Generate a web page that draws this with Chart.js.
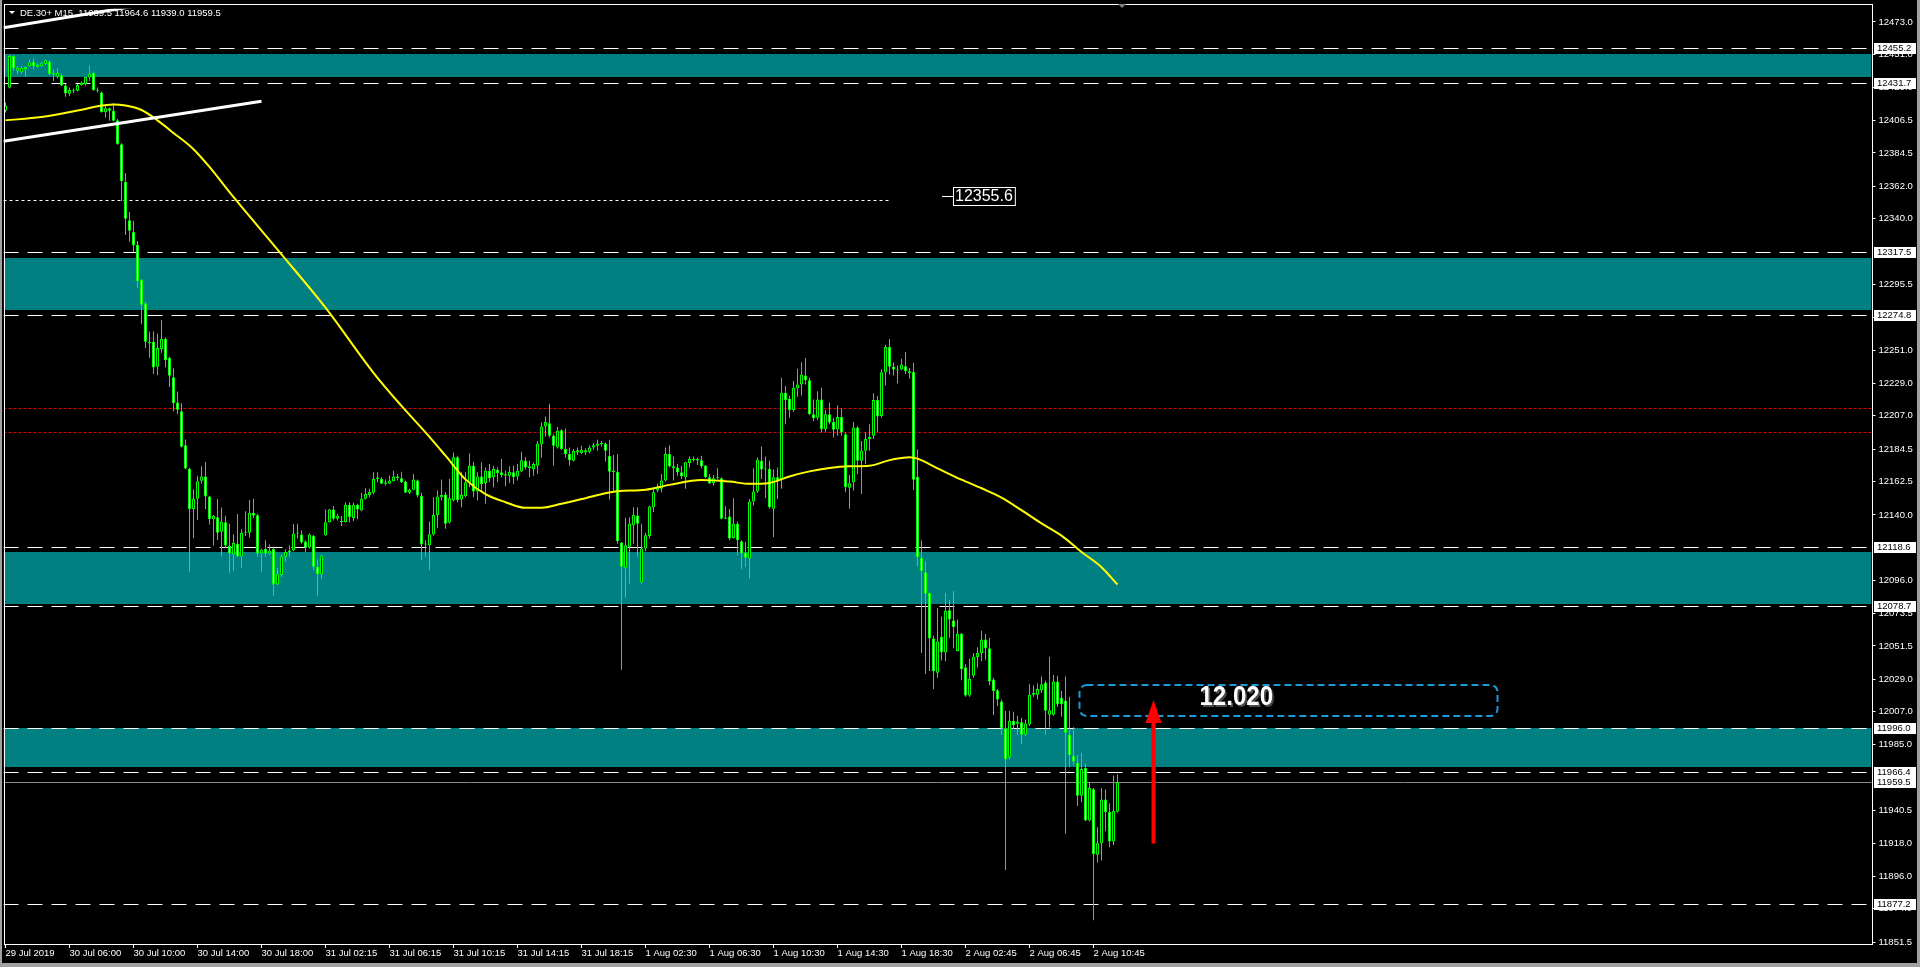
<!DOCTYPE html>
<html>
<head>
<meta charset="utf-8">
<title>DE.30+ M15</title>
<script src="https://cdn.jsdelivr.net/npm/chart.js@4.4.1/dist/chart.umd.min.js"></script>
<style>
  html, body { margin: 0; padding: 0; background: #000; overflow: hidden; }
  canvas { display: block; }
</style>
</head>
<body>
<canvas id="myChart" width="1920" height="967"></canvas>
<script>
// DE.30+ M15, one entry per bar (bar 0 = left edge of the window)
const opens = [
  12413.0, 12428.6, 12449.9, 12440.0, 12439.0, 12441.0, 12443.0, 12446.0, 12442.5, 12443.0,
  12444.5, 12446.0, 12437.6, 12436.0, 12437.0, 12430.0, 12424.5, 12426.5, 12426.4, 12430.4,
  12431.0, 12435.5, 12438.7, 12427.0, 12425.3, 12412.0, 12414.7, 12413.0, 12406.5, 12390.3,
  12365.0, 12339.0, 12331.0, 12322.5, 12299.0, 12283.0, 12257.0, 12257.0, 12240.0, 12252.0,
  12259.0, 12246.0, 12233.0, 12216.0, 12210.0, 12187.0, 12171.0, 12144.0, 12151.0, 12163.0,
  12166.0, 12152.5, 12137.0, 12138.5, 12128.7, 12135.0, 12119.0, 12113.5, 12120.6, 12112.0,
  12128.5, 12128.0, 12141.5, 12139.7, 12114.0, 12117.0, 12114.0, 12117.0, 12093.0, 12099.4,
  12111.7, 12115.0, 12116.0, 12127.4, 12126.7, 12122.0, 12118.0, 12126.0, 12105.0, 12100.0,
  12126.2, 12135.0, 12143.7, 12137.4, 12135.8, 12135.2, 12146.8, 12138.0, 12146.8, 12143.0,
  12150.9, 12153.5, 12155.0, 12164.3, 12164.3, 12161.0, 12161.0, 12162.8, 12165.9, 12164.8,
  12162.5, 12155.0, 12157.0, 12163.2, 12152.7, 12120.0, 12119.5, 12126.7, 12140.0, 12152.0,
  12153.8, 12134.8, 12149.8, 12178.9, 12150.4, 12152.6, 12162.0, 12173.2, 12155.8, 12165.9,
  12161.6, 12169.9, 12165.4, 12170.5, 12168.8, 12167.4, 12166.5, 12168.8, 12166.0, 12169.4,
  12176.6, 12172.8, 12171.0, 12173.2, 12187.8, 12199.7, 12201.9, 12193.4, 12185.6, 12197.2,
  12184.5, 12181.1, 12176.6, 12182.2, 12181.8, 12182.2, 12182.7, 12185.6, 12186.7, 12188.0,
  12188.3, 12180.0, 12169.4, 12169.2, 12121.3, 12104.3, 12118.5, 12133.0, 12139.6, 12094.4,
  12117.3, 12125.8, 12145.2, 12156.5, 12157.6, 12163.2, 12181.1, 12172.8, 12172.1, 12168.8,
  12165.4, 12175.0, 12177.7, 12176.8, 12177.0, 12173.3, 12165.4, 12161.6, 12164.7, 12164.7,
  12137.4, 12139.0, 12124.4, 12134.0, 12122.2, 12114.5, 12110.5, 12149.0, 12155.8, 12176.6,
  12170.6, 12171.0, 12144.1, 12165.4, 12164.3, 12222.5, 12218.5, 12210.9, 12225.5, 12228.1,
  12234.2, 12231.0, 12208.0, 12205.7, 12218.0, 12197.9, 12208.0, 12202.8, 12197.9, 12206.2,
  12194.5, 12158.3, 12162.0, 12199.0, 12176.6, 12183.3, 12191.2, 12193.4, 12217.6, 12206.8,
  12236.4, 12253.4, 12240.0, 12238.2, 12238.2, 12240.4, 12237.1, 12236.6, 12165.6, 12111.1,
  12101.3, 12087.2, 12056.6, 12033.4, 12057.6, 12047.3, 12075.6, 12068.7, 12048.1, 12059.7,
  12037.0, 12018.0, 12031.4, 12044.0, 12046.8, 12055.8, 12049.9, 12028.8, 12021.6, 12013.9,
  11995.9, 11976.1, 12001.0, 11999.0, 12000.0, 11991.5, 11998.5, 12018.5, 12018.5, 12021.6,
  12026.7, 12005.0, 12005.1, 12027.5, 12016.5, 12014.6, 11991.5, 11977.4, 11972.7, 11950.4,
  11969.1, 11933.6, 11954.7, 11910.5, 11918.2, 11947.8, 11939.3, 11919.5, 11939.5
];
const highs = [
  12418.5, 12451.0, 12450.5, 12443.0, 12443.0, 12443.0, 12447.7, 12448.3, 12445.0, 12446.0,
  12447.6, 12447.0, 12441.0, 12441.6, 12438.0, 12431.0, 12428.6, 12428.0, 12431.0, 12432.7,
  12436.0, 12443.6, 12439.5, 12428.6, 12426.0, 12416.3, 12415.0, 12418.0, 12407.4, 12391.0,
  12371.0, 12344.6, 12338.5, 12325.0, 12299.0, 12284.0, 12263.8, 12263.8, 12262.6, 12271.6,
  12260.0, 12247.0, 12239.0, 12223.4, 12215.4, 12190.9, 12172.0, 12157.4, 12166.4, 12172.8,
  12175.7, 12153.0, 12140.0, 12150.8, 12145.0, 12139.5, 12134.0, 12126.7, 12140.6, 12130.3,
  12142.4, 12150.0, 12151.0, 12140.8, 12117.3, 12122.9, 12120.0, 12118.0, 12104.3, 12113.3,
  12116.8, 12119.5, 12133.9, 12134.0, 12129.6, 12122.9, 12127.4, 12126.5, 12110.0, 12113.3,
  12143.7, 12144.0, 12146.0, 12140.8, 12139.2, 12148.6, 12148.6, 12148.2, 12147.5, 12154.9,
  12158.0, 12157.6, 12168.8, 12168.8, 12165.4, 12163.9, 12166.6, 12169.9, 12167.7, 12169.2,
  12163.2, 12157.6, 12167.7, 12163.9, 12154.9, 12122.9, 12135.6, 12152.0, 12156.5, 12163.9,
  12155.4, 12164.3, 12182.2, 12180.0, 12168.8, 12168.8, 12181.5, 12175.9, 12168.8, 12175.5,
  12172.1, 12174.4, 12173.2, 12172.1, 12177.7, 12169.9, 12172.8, 12173.2, 12174.4, 12182.7,
  12178.9, 12176.6, 12175.5, 12190.0, 12202.4, 12206.4, 12215.1, 12194.5, 12199.5, 12197.9,
  12198.3, 12185.6, 12184.5, 12185.6, 12186.7, 12184.9, 12187.1, 12188.5, 12190.7, 12190.0,
  12188.9, 12190.7, 12180.4, 12181.1, 12121.7, 12137.9, 12138.5, 12145.2, 12145.2, 12134.0,
  12128.0, 12146.4, 12157.6, 12161.0, 12167.7, 12185.6, 12187.1, 12179.5, 12174.4, 12173.2,
  12175.9, 12179.5, 12179.5, 12178.8, 12180.0, 12173.7, 12167.7, 12167.0, 12171.5, 12165.4,
  12145.9, 12144.0, 12151.3, 12135.6, 12122.9, 12121.7, 12150.8, 12171.5, 12178.8, 12186.2,
  12179.5, 12176.6, 12170.6, 12172.1, 12232.6, 12227.0, 12220.3, 12230.4, 12238.7, 12243.1,
  12246.0, 12232.6, 12218.0, 12223.6, 12225.9, 12210.9, 12215.8, 12205.7, 12214.0, 12211.8,
  12195.6, 12167.0, 12202.8, 12200.1, 12190.0, 12195.6, 12201.3, 12222.1, 12220.3, 12238.2,
  12255.0, 12258.8, 12243.1, 12240.9, 12245.4, 12250.0, 12239.2, 12242.8, 12184.4, 12122.7,
  12108.5, 12087.5, 12058.4, 12077.1, 12071.2, 12087.4, 12082.3, 12088.7, 12069.4, 12060.2,
  12039.1, 12043.0, 12046.8, 12050.6, 12061.7, 12059.6, 12057.1, 12030.1, 12022.4, 12015.1,
  12007.5, 12007.5, 12006.9, 12004.3, 12003.0, 12001.8, 12025.7, 12024.9, 12026.2, 12030.8,
  12028.0, 12044.2, 12031.9, 12031.4, 12021.1, 12030.8, 12017.2, 11996.6, 11977.9, 11979.4,
  11972.2, 11959.4, 11955.5, 11929.0, 11955.5, 11954.7, 11945.2, 11964.0, 11964.6
];
const lows = [
  12411.8, 12428.0, 12439.8, 12437.6, 12438.0, 12435.8, 12443.0, 12441.0, 12442.0, 12442.5,
  12444.0, 12437.0, 12433.0, 12435.0, 12429.5, 12422.4, 12423.0, 12425.0, 12426.0, 12429.8,
  12430.0, 12433.0, 12426.5, 12425.3, 12411.8, 12408.5, 12406.2, 12405.8, 12390.0, 12352.0,
  12329.0, 12324.5, 12317.6, 12293.2, 12268.7, 12252.8, 12246.2, 12235.2, 12234.4, 12249.6,
  12239.8, 12226.4, 12210.0, 12208.0, 12185.5, 12170.8, 12101.8, 12124.3, 12136.6, 12161.0,
  12144.0, 12133.6, 12119.4, 12123.0, 12112.0, 12117.5, 12101.0, 12102.0, 12111.7, 12104.3,
  12125.8, 12124.5, 12137.9, 12111.7, 12101.6, 12111.7, 12112.8, 12085.5, 12092.6, 12098.2,
  12108.3, 12111.7, 12115.5, 12124.0, 12120.6, 12115.0, 12117.3, 12102.7, 12085.5, 12096.7,
  12126.0, 12134.8, 12136.3, 12136.3, 12132.5, 12134.8, 12134.8, 12135.9, 12137.0, 12142.4,
  12150.4, 12152.0, 12154.2, 12162.0, 12161.0, 12159.8, 12161.0, 12162.5, 12163.2, 12161.6,
  12154.9, 12154.2, 12157.0, 12152.0, 12109.4, 12111.7, 12102.7, 12126.0, 12131.2, 12149.8,
  12130.7, 12134.0, 12149.0, 12148.6, 12145.2, 12152.0, 12158.7, 12152.0, 12149.7, 12155.3,
  12147.5, 12162.0, 12158.7, 12162.0, 12165.4, 12159.4, 12161.6, 12160.9, 12163.2, 12168.8,
  12170.6, 12165.4, 12166.5, 12167.7, 12178.8, 12193.0, 12192.3, 12173.2, 12184.9, 12184.0,
  12178.8, 12173.2, 12176.0, 12180.4, 12181.1, 12180.4, 12181.8, 12184.0, 12183.3, 12186.2,
  12176.0, 12150.4, 12155.3, 12120.6, 12035.5, 12084.1, 12093.7, 12120.6, 12111.7, 12093.7,
  12115.4, 12124.0, 12141.9, 12155.3, 12155.3, 12162.5, 12172.1, 12163.2, 12166.5, 12164.3,
  12157.6, 12172.1, 12176.0, 12173.7, 12171.5, 12164.7, 12160.9, 12159.8, 12163.9, 12137.0,
  12137.0, 12122.9, 12124.0, 12112.8, 12103.4, 12104.9, 12097.1, 12146.4, 12154.9, 12164.3,
  12151.3, 12144.1, 12125.1, 12150.8, 12157.6, 12201.3, 12205.7, 12209.5, 12219.8, 12220.7,
  12228.1, 12207.3, 12203.5, 12204.0, 12195.6, 12196.1, 12201.3, 12192.3, 12193.4, 12193.4,
  12155.3, 12144.1, 12156.5, 12167.7, 12154.2, 12174.4, 12183.3, 12191.2, 12195.6, 12205.7,
  12227.5, 12234.9, 12234.2, 12228.8, 12237.8, 12235.1, 12232.0, 12156.9, 12105.4, 12046.8,
  12032.6, 12034.5, 12022.4, 12030.1, 12041.7, 12041.1, 12057.1, 12049.9, 12047.8, 12028.3,
  12017.2, 12017.2, 12030.1, 12037.0, 12041.1, 12042.2, 12024.9, 12004.9, 12010.8, 11991.5,
  11900.2, 11975.0, 11995.4, 11991.5, 11985.1, 11990.7, 11997.4, 12017.2, 12015.4, 12019.8,
  11991.5, 11996.6, 12004.3, 12010.3, 12003.6, 11924.6, 11969.6, 11970.9, 11943.4, 11946.0,
  11933.1, 11933.1, 11866.3, 11905.3, 11906.6, 11926.4, 11915.6, 11916.9, 11939.0
];
const closes = [
  12416.3, 12449.9, 12441.6, 12442.0, 12442.0, 12442.5, 12445.5, 12443.0, 12444.0, 12445.0,
  12447.0, 12437.6, 12438.5, 12438.7, 12430.0, 12424.6, 12427.0, 12427.0, 12430.4, 12432.0,
  12435.8, 12438.0, 12427.0, 12426.5, 12412.0, 12414.7, 12413.0, 12406.2, 12390.5, 12365.4,
  12340.0, 12332.0, 12322.0, 12298.0, 12282.0, 12257.0, 12256.0, 12239.5, 12252.8, 12259.0,
  12244.7, 12234.0, 12215.6, 12211.0, 12186.0, 12171.3, 12144.0, 12151.0, 12162.8, 12166.0,
  12152.5, 12137.0, 12139.5, 12128.0, 12135.4, 12119.4, 12114.0, 12121.0, 12112.0, 12128.0,
  12128.0, 12141.5, 12139.5, 12114.0, 12116.5, 12114.0, 12116.0, 12093.0, 12100.0, 12112.0,
  12115.0, 12116.0, 12127.4, 12127.8, 12121.3, 12118.0, 12126.7, 12105.0, 12100.0, 12112.4,
  12135.0, 12143.7, 12137.4, 12139.5, 12135.2, 12146.8, 12138.6, 12146.8, 12143.7, 12150.9,
  12154.2, 12155.4, 12164.3, 12165.2, 12161.0, 12162.0, 12163.2, 12165.9, 12165.0, 12162.0,
  12155.0, 12157.0, 12163.9, 12153.1, 12120.0, 12120.6, 12127.0, 12140.0, 12152.4, 12153.5,
  12134.0, 12151.3, 12178.9, 12150.0, 12153.5, 12162.0, 12173.2, 12155.8, 12165.9, 12160.9,
  12169.9, 12164.7, 12171.0, 12168.3, 12167.0, 12166.5, 12169.2, 12165.4, 12169.9, 12177.0,
  12172.1, 12171.5, 12174.4, 12188.3, 12199.7, 12202.8, 12193.4, 12186.7, 12196.8, 12184.5,
  12181.1, 12177.0, 12183.3, 12183.6, 12184.0, 12183.6, 12185.6, 12187.1, 12188.3, 12187.9,
  12183.3, 12169.2, 12169.0, 12122.2, 12105.0, 12119.5, 12134.0, 12140.0, 12134.0, 12117.3,
  12126.2, 12145.7, 12155.3, 12158.3, 12163.2, 12181.1, 12172.8, 12171.5, 12168.8, 12166.1,
  12175.5, 12177.7, 12177.0, 12177.7, 12172.8, 12165.4, 12161.2, 12164.7, 12165.4, 12137.4,
  12137.9, 12124.0, 12134.0, 12122.9, 12113.9, 12111.0, 12149.1, 12155.8, 12177.3, 12170.6,
  12171.4, 12145.2, 12165.4, 12163.2, 12222.5, 12217.6, 12210.9, 12225.9, 12228.1, 12234.9,
  12231.0, 12208.0, 12205.3, 12218.0, 12197.9, 12208.0, 12202.4, 12197.5, 12206.2, 12195.6,
  12158.7, 12161.4, 12199.0, 12176.6, 12183.3, 12191.2, 12192.7, 12217.6, 12206.4, 12236.4,
  12253.4, 12240.0, 12238.2, 12237.5, 12241.6, 12237.1, 12235.8, 12163.8, 12111.6, 12102.1,
  12086.7, 12056.6, 12034.5, 12054.5, 12047.3, 12075.1, 12069.4, 12064.3, 12059.7, 12036.0,
  12018.0, 12029.3, 12044.2, 12046.8, 12055.8, 12049.9, 12027.5, 12021.1, 12015.4, 11995.9,
  11974.8, 12001.0, 11998.0, 12000.4, 11991.5, 11999.2, 12018.5, 12019.8, 12022.4, 12025.7,
  12007.7, 12008.0, 12027.5, 12012.1, 12012.1, 11992.8, 11977.9, 11973.5, 11950.4, 11968.4,
  11933.6, 11955.5, 11911.0, 11918.2, 11947.8, 11939.3, 11919.5, 11940.1, 11959.5
];

// yellow moving average, read at these bars
const maBars = [0, 9, 19, 23, 27, 30, 34, 38, 42, 47, 51, 56, 69, 80, 92, 99, 105, 110, 115, 120,
  125, 130, 134, 139, 145, 150, 153, 160, 166, 174, 181, 186, 191, 196, 201, 206, 211, 216, 221, 224,
  226, 228, 233, 239, 244, 249, 254, 259, 264, 269, 274, 278];
const maValues = [12406.5, 12408.7, 12413.6, 12416.0, 12417.2, 12416.5, 12413.5, 12406.5, 12398.0, 12387.0,
  12375.0, 12358.0, 12316.0, 12280.0, 12236.0, 12213.6, 12195.7, 12180.0, 12164.0, 12154.0,
  12148.6, 12144.8, 12144.8, 12147.5, 12151.3, 12154.6, 12156.0, 12157.0, 12160.3, 12163.6,
  12162.5, 12161.0, 12161.6, 12166.0, 12169.4, 12171.7, 12172.8, 12173.2, 12177.0, 12178.4,
  12179.0, 12178.0, 12171.5, 12163.8, 12158.0, 12151.7, 12143.2, 12134.3, 12126.0, 12115.0,
  12104.7, 12093.0];

// time axis
const timeTickBars = [0, 16, 32, 48, 64, 80, 96, 112, 128, 144, 160, 176, 192, 208, 224, 240, 256, 272];
const timeTickLabels = ['29 Jul 2019', '30 Jul 06:00', '30 Jul 10:00', '30 Jul 14:00', '30 Jul 18:00',
  '31 Jul 02:15', '31 Jul 06:15', '31 Jul 10:15', '31 Jul 14:15', '31 Jul 18:15', '1 Aug 02:30',
  '1 Aug 06:30', '1 Aug 10:30', '1 Aug 14:30', '1 Aug 18:30', '2 Aug 02:45', '2 Aug 06:45', '2 Aug 10:45'];
const totalBars = 467;

// price axis
const priceTicks = [12473.0, 12451.0, 12429.0, 12406.5, 12384.5, 12362.0, 12340.0, 12295.5, 12273.0,
  12251.0, 12229.0, 12207.0, 12184.5, 12162.5, 12140.0, 12096.0, 12073.5, 12051.5, 12029.0, 12007.0,
  11985.0, 11940.5, 11918.0, 11896.0, 11874.0, 11851.5];
const priceMin = 11850.2;
const priceMax = 12481.9;

// drawn objects
const levelLines = [12455.2, 12431.7, 12317.5, 12274.8, 12118.6, 12078.7, 11996.0, 11966.4, 11877.2];
const bidPrice = 11959.5;
const zoneTops = [12451.0, 12313.2, 12115.0, 11996.0];
const zoneBottoms = [12435.5, 12278.3, 12080.1, 11969.9];
const redLevels = [12212.4, 12196.3];
const dottedLevel = 12353.0;
const dottedLevelEnd = 221;
const priceLabel = 12355.6;
const priceLabelBar = 234;
const channelLow = [{ x: -0.5, y: 12392.4 }, { x: 64, y: 12419.4 }];
const channelHigh = [{ x: -0.5, y: 12469.1 }, { x: 40, y: 12487.0 }];
const targetText = '12.020';
const targetBox = { from: 268.5, to: 373, low: 12004.2, high: 12024.9 };
const targetTextAt = { x: 307.7, y: 12016.6 };
const arrow = { bar: 287, from: 11918.0, to: 12015.0 };
const lastBar = 278;
const legendText = 'DE.30+ M15  11939.5 11964.6 11939.0 11959.5';

const FONT = "'Liberation Sans', Arial, sans-serif";

const bodies = opens.map((o, i) => ({ x: i, y: [o, closes[i]] }));
const wicks = lows.map((l, i) => ({ x: i, y: [l, highs[i]] }));
const maLine = maBars.map((b, i) => ({ x: b, y: maValues[i] }));

function hline(ctx, x1, x2, yy) {
  ctx.beginPath();
  ctx.moveTo(x1, yy);
  ctx.lineTo(x2, yy);
  ctx.stroke();
}

const background = {
  id: 'background',
  beforeDraw(chart) {
    const ctx = chart.ctx;
    ctx.save();
    ctx.fillStyle = '#000';
    ctx.fillRect(0, 0, chart.width, chart.height);
    ctx.fillStyle = '#a0a0a0';
    ctx.fillRect(0, 0, 2, chart.height);
    ctx.fillRect(chart.width - 3, 0, 3, chart.height);
    ctx.fillRect(0, chart.height - 4, chart.width, 4);
    ctx.restore();
  }
};

const levels = {
  id: 'levels',
  beforeDatasetsDraw(chart) {
    const { ctx, chartArea: a, scales: { x, y } } = chart;
    const py = v => Math.round(y.getPixelForValue(v));
    ctx.save();
    ctx.beginPath();
    ctx.rect(a.left, a.top, a.right - a.left, a.bottom - a.top);
    ctx.clip();

    ctx.fillStyle = '#008080';
    zoneTops.forEach((t, i) => {
      const y1 = py(t), y2 = py(zoneBottoms[i]);
      ctx.fillRect(a.left, y1, a.right - a.left, y2 - y1);
    });

    ctx.lineWidth = 1;
    ctx.strokeStyle = '#e00000';
    ctx.setLineDash([3, 2]);
    redLevels.forEach(v => hline(ctx, a.left, a.right, py(v) + 0.5));

    ctx.strokeStyle = '#ffffff';
    ctx.setLineDash([3, 3]);
    hline(ctx, a.left, x.getPixelForValue(dottedLevelEnd), py(dottedLevel) + 0.5);

    ctx.setLineDash([15, 9]);
    levelLines.forEach(v => hline(ctx, a.left, a.right, py(v) + 0.5));

    ctx.setLineDash([]);
    ctx.strokeStyle = '#8a8a8a';
    hline(ctx, a.left, a.right, py(bidPrice) + 0.5);

    // legend line top-left
    ctx.fillStyle = '#ffffff';
    ctx.beginPath();
    ctx.moveTo(9, 11); ctx.lineTo(15, 11); ctx.lineTo(12, 14); ctx.closePath();
    ctx.fill();
    ctx.font = '9.5px ' + FONT;
    ctx.textBaseline = 'middle';
    ctx.fillText(legendText, 20, 13);
    ctx.restore();
  }
};

const objects = {
  id: 'objects',
  afterDatasetsDraw(chart) {
    const { ctx, chartArea: a, scales: { x, y } } = chart;
    const py = v => Math.round(y.getPixelForValue(v));
    ctx.save();
    ctx.beginPath();
    ctx.rect(a.left, a.top, a.right - a.left, a.bottom - a.top);
    ctx.clip();

    // price label in the chart
    const ly = py(priceLabel);
    const lx = Math.round(x.getPixelForValue(priceLabelBar));
    ctx.strokeStyle = '#ffffff';
    ctx.lineWidth = 1;
    hline(ctx, lx, lx + 11, ly + 0.5);
    ctx.font = '16px ' + FONT;
    const tw = ctx.measureText(priceLabel.toFixed(1)).width;
    ctx.fillStyle = '#000';
    ctx.fillRect(lx + 11, ly - 9, tw + 5, 19);
    ctx.strokeRect(lx + 11.5, ly - 8.5, tw + 4, 18);
    ctx.fillStyle = '#ffffff';
    ctx.textBaseline = 'middle';
    ctx.fillText(priceLabel.toFixed(1), lx + 13, ly + 1);

    // dashed target box
    const bx1 = x.getPixelForValue(targetBox.from), bx2 = x.getPixelForValue(targetBox.to);
    const by1 = py(targetBox.high), by2 = py(targetBox.low);
    ctx.strokeStyle = '#1a9ad6';
    ctx.lineWidth = 2;
    ctx.setLineDash([7, 4]);
    ctx.beginPath();
    ctx.roundRect(bx1, by1, bx2 - bx1, by2 - by1, 7);
    ctx.stroke();
    ctx.setLineDash([]);

    // 12.020
    ctx.save();
    ctx.translate(x.getPixelForValue(targetTextAt.x), y.getPixelForValue(targetTextAt.y));
    ctx.scale(0.86, 1);
    ctx.font = 'bold 28px ' + FONT;
    ctx.textAlign = 'center';
    ctx.textBaseline = 'middle';
    ctx.fillStyle = '#4a4a4a';
    ctx.fillText(targetText, 2, 2);
    ctx.fillStyle = '#ffffff';
    ctx.fillText(targetText, 0, 0);
    ctx.restore();

    // red arrow
    const ax = x.getPixelForValue(arrow.bar);
    const ay1 = y.getPixelForValue(arrow.from), ay2 = y.getPixelForValue(arrow.to);
    ctx.fillStyle = '#ff0000';
    ctx.fillRect(ax - 2, ay2 + 20, 4, ay1 - ay2 - 20);
    ctx.beginPath();
    ctx.moveTo(ax, ay2);
    ctx.lineTo(ax + 8, ay2 + 23);
    ctx.lineTo(ax - 8, ay2 + 23);
    ctx.closePath();
    ctx.fill();

    ctx.restore();

    // frame
    ctx.save();
    ctx.strokeStyle = '#ffffff';
    ctx.lineWidth = 1;
    ctx.strokeRect(4.5, 4.5, 1868, 940);
    // chart shift marker
    const sx = Math.round(x.getPixelForValue(lastBar + 1));
    ctx.fillStyle = '#808080';
    ctx.beginPath();
    ctx.moveTo(sx - 4, 4); ctx.lineTo(sx + 4, 4); ctx.lineTo(sx, 8); ctx.closePath();
    ctx.fill();
    ctx.restore();
  },
  afterDraw(chart) {
    const { ctx, scales: { y } } = chart;
    ctx.save();
    ctx.font = '9.5px ' + FONT;
    ctx.textBaseline = 'middle';
    levelLines.concat([bidPrice]).forEach(v => {
      const yy = Math.round(y.getPixelForValue(v));
      ctx.fillStyle = '#ffffff';
      ctx.fillRect(1874, yy - 5, 42, 11);
      ctx.fillStyle = '#000000';
      ctx.fillText(v.toFixed(1), 1877, yy + 0.5);
    });
    ctx.restore();
  }
};

new Chart(document.getElementById('myChart'), {
  type: 'bar',
  data: {
    datasets: [
      {
        type: 'line', label: 'channel low', data: channelLow,
        borderColor: '#ffffff', borderWidth: 3, pointRadius: 0, order: 0
      },
      {
        type: 'line', label: 'channel high', data: channelHigh,
        borderColor: '#ffffff', borderWidth: 3, pointRadius: 0, order: 0
      },
      {
        type: 'line', label: 'MA', data: maLine,
        borderColor: '#ffff00', borderWidth: 2, pointRadius: 0,
        cubicInterpolationMode: 'monotone', order: 1
      },
      {
        label: 'body', data: bodies, grouped: false, barThickness: 3,
        borderWidth: 1, borderSkipped: false, borderColor: '#00ff00',
        backgroundColor: bodies.map(b => (b.y[1] >= b.y[0] ? '#000000' : '#ffffff')),
        minBarLength: 1, inflateAmount: 0, order: 2
      },
      {
        label: 'wick', data: wicks, grouped: false, barThickness: 1,
        borderWidth: 0, backgroundColor: '#00ff00', minBarLength: 1, inflateAmount: 0, order: 3
      }
    ]
  },
  options: {
    responsive: false,
    animation: false,
    devicePixelRatio: 1,
    layout: { padding: { left: 3.5, top: 4, right: 0, bottom: 0 } },
    plugins: { legend: { display: false }, tooltip: { enabled: false } },
    scales: {
      x: {
        type: 'linear',
        min: -0.5,
        max: totalBars - 0.5,
        offset: false,
        position: 'bottom',
        border: { display: false },
        grid: { drawOnChartArea: false, drawTicks: true, tickLength: 4, color: '#ffffff', offset: false },
        ticks: {
          autoSkip: false, maxRotation: 0, align: 'start', padding: 0, color: '#ffffff',
          font: { family: FONT, size: 9.5 },
          callback: v => {
            const k = timeTickBars.indexOf(v);
            return k >= 0 ? timeTickLabels[k] : '';
          }
        },
        afterBuildTicks: s => { s.ticks = timeTickBars.map(v => ({ value: v })); },
        afterFit: s => { s.height = 23; }
      },
      y: {
        type: 'linear',
        position: 'right',
        min: priceMin,
        max: priceMax,
        border: { display: false },
        grid: { drawOnChartArea: false, drawTicks: true, tickLength: 4, color: '#ffffff' },
        ticks: {
          padding: 3, color: '#ffffff', font: { family: FONT, size: 9.5 },
          callback: v => v.toFixed(1)
        },
        afterBuildTicks: s => { s.ticks = priceTicks.map(v => ({ value: v })); },
        afterFit: s => { s.width = 48.5; }
      }
    }
  },
  plugins: [background, levels, objects]
});
</script>
</body>
</html>
